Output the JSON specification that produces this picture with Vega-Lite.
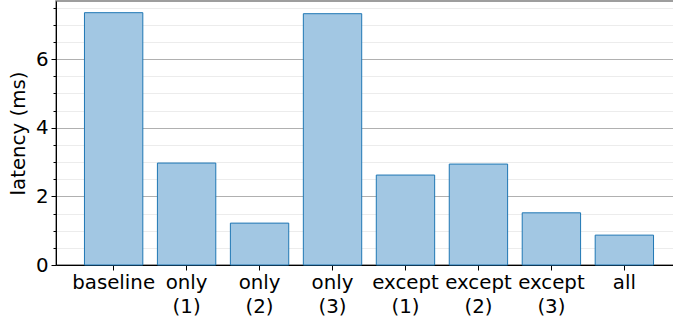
{
  "$schema": "https://vega.github.io/schema/vega-lite/v6.json",
  "autosize": {"type": "none"},
  "padding": {"left": 56, "top": 1, "right": 0, "bottom": 55},
  "width": 626,
  "height": 264,
  "background": "white",
  "config": {
    "font": "DejaVu Sans",
    "view": {"stroke": "#7f7f7f", "strokeWidth": 1.5}
  },
  "data": {
    "values": [
      {"config": "baseline", "latency": 7.35},
      {"config": "only\n(1)", "latency": 2.97},
      {"config": "only\n(2)", "latency": 1.22},
      {"config": "only\n(3)", "latency": 7.32},
      {"config": "except\n(1)", "latency": 2.62},
      {"config": "except\n(2)", "latency": 2.94},
      {"config": "except\n(3)", "latency": 1.52},
      {"config": "all", "latency": 0.87}
    ]
  },
  "mark": {"type": "bar", "fill": "#a2c7e3", "stroke": "#1f77b4", "strokeWidth": 1},
  "encoding": {
    "x": {
      "field": "config",
      "type": "nominal",
      "sort": null,
      "scale": {"paddingInner": 0.2, "paddingOuter": 0.39},
      "axis": {
        "title": null,
        "labelAngle": 0,
        "labelFont": "DejaVu Sans",
        "labelFontSize": 19.8,
        "labelColor": "black",
        "labelPadding": 2,
        "labelLineHeight": 24,
        "labelExpr": "split(datum.label, '\\n')",
        "tickSize": 5,
        "tickColor": "black",
        "domainColor": "black",
        "grid": false
      }
    },
    "y": {
      "field": "latency",
      "type": "quantitative",
      "scale": {"domain": [0, 7.69], "nice": false, "zero": true},
      "axis": {
        "title": "latency (ms)",
        "titleFont": "DejaVu Sans",
        "titleFontSize": 19.8,
        "titleFontWeight": "normal",
        "titleColor": "black",
        "titlePadding": 7,
        "values": [0, 0.5, 1, 1.5, 2, 2.5, 3, 3.5, 4, 4.5, 5, 5.5, 6, 6.5, 7, 7.5],
        "labelExpr": "datum.value % 2 === 0 ? format(datum.value, 'd') : ''",
        "labelFont": "DejaVu Sans",
        "labelFontSize": 19.8,
        "labelColor": "black",
        "labelPadding": 3,
        "tickColor": "black",
        "tickSize": {"condition": {"test": "datum.value % 2 === 0", "value": 5}, "value": 3},
        "domainColor": "black",
        "grid": true,
        "gridColor": {"condition": {"test": "datum.value % 2 === 0", "value": "#b0b0b0"}, "value": "#ececec"},
        "gridWidth": 1
      }
    }
  }
}
